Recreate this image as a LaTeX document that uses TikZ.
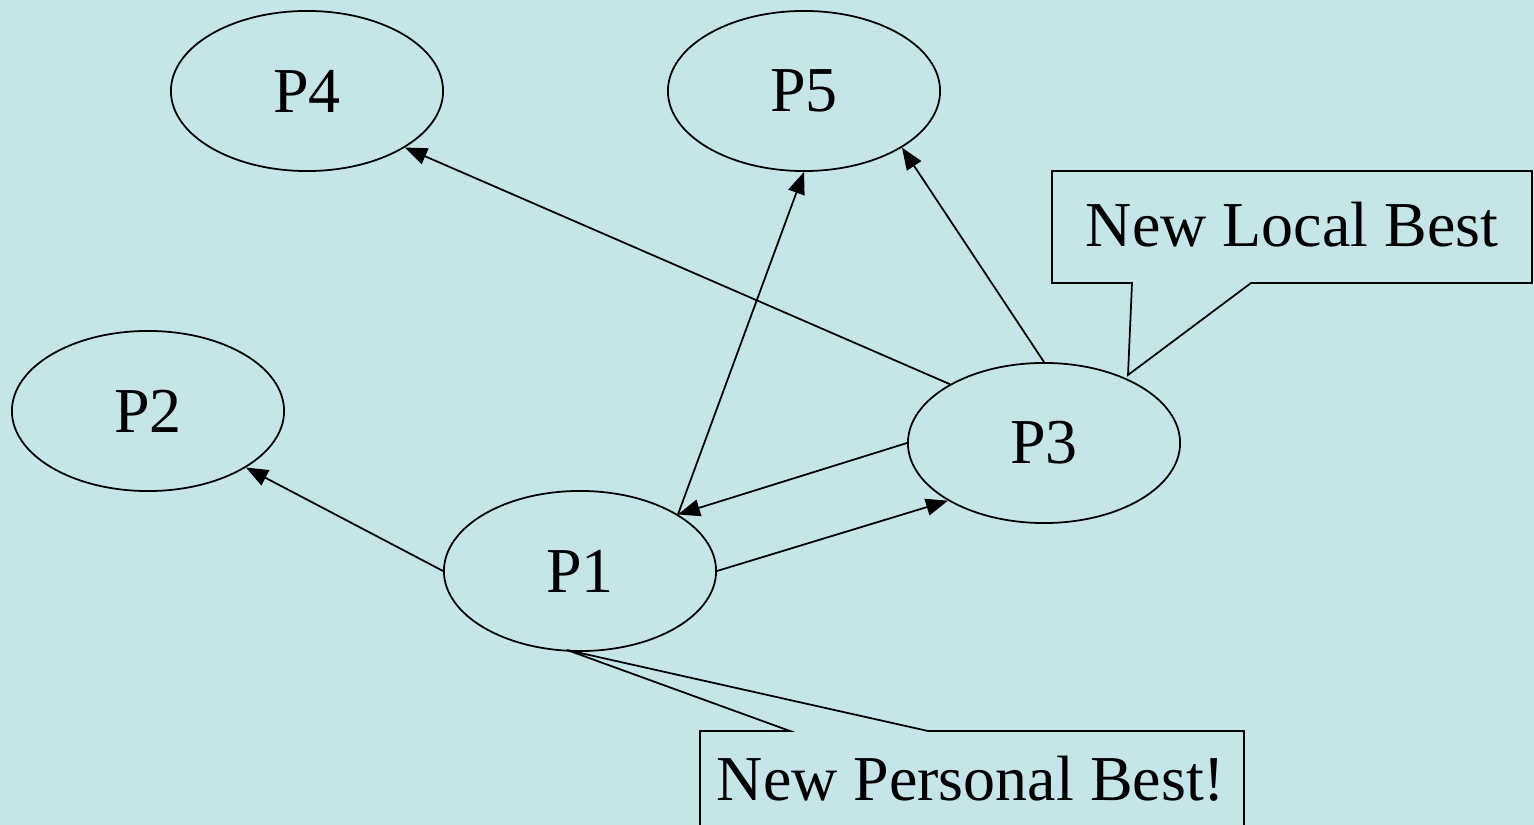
\documentclass[tikz,border=0pt]{standalone}
\usepackage{fontspec}
\setmainfont{Liberation Serif}
\usetikzlibrary{shapes.geometric,arrows.meta}
\definecolor{bg}{RGB}{197,229,232}
\begin{document}
\begin{tikzpicture}[x=0.01cm,y=-0.01cm,
  every node/.style={font=\fontsize{18.2}{22}\selectfont},
  pnode/.style={ellipse,draw,line width=0.5pt,minimum width=2.72cm,minimum height=1.6cm,inner sep=0pt},
  conn/.style={line width=0.5pt,-{Triangle[length=0.22cm,width=0.17cm]}},
  callout/.style={draw,line width=0.5pt,fill=bg,line join=miter}]
\useasboundingbox (0,0) rectangle (1534,825);
\clip (0,0) rectangle (1534,825);
\fill[bg] (0,0) rectangle (1534,825);
\node[pnode] (P4) at (307,91) {P4};
\node[pnode] (P5) at (804,91) {P5};
\node[pnode] (P2) at (148,411) {P2};
\node[pnode] (P1) at (580,571) {P1};
\node[pnode] (P3) at (1044,443) {P3};
\draw[conn] (P1.west) -- (P2.-30);
\draw[conn] (P1.30) -- (P5.south);
\draw[conn] (P1.east) -- (P3.211);
\draw[conn] (P3.west) -- (P1.30);
\draw[conn] (P3.148) -- (P4.-30);
\draw[conn] (P3.north) -- (P5.-30);
\coordinate (tipL) at (1128,375);
\coordinate (tipP) at (567,650);
\draw[callout] (1052,171) -- (1532,171) -- (1532,283) -- (1251,283) -- (tipL) -- (1132,283) -- (1052,283) -- cycle;
\node[anchor=base] (lbest) at (1292,247) {New Local Best};
\draw[callout] (700,845) -- (700,731) -- (790,731) -- (tipP) -- (928,731) -- (1244,731) -- (1244,845);
\node[anchor=base] (pbest) at (971,800) {New Personal Best!};
\end{tikzpicture}
\end{document}
